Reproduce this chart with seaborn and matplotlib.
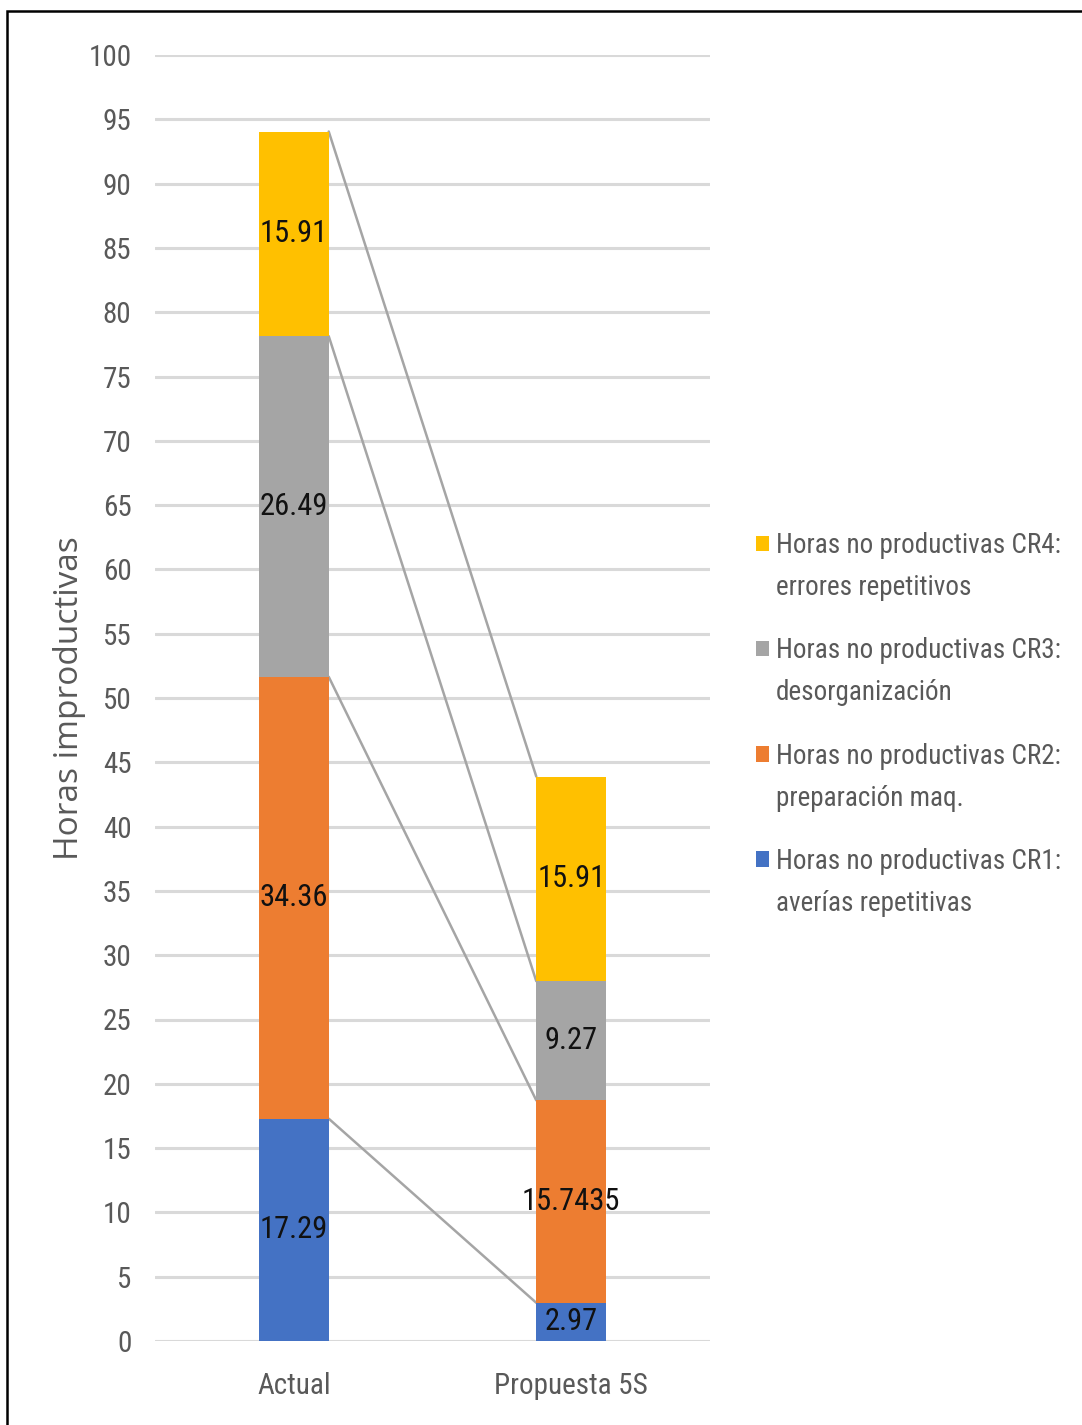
import matplotlib
matplotlib.use("Agg")
import matplotlib.pyplot as plt
from matplotlib import font_manager as fm
from matplotlib.patches import Patch, Rectangle
import seaborn as sns
import pandas as pd

# Data
categories = ["Actual", "Propuesta 5S"]
cr1 = [17.29, 2.97]
cr2 = [34.36, 15.7435]
cr3 = [26.49, 9.27]
cr4 = [15.91, 15.91]
cr1_labels = ["17.29", "2.97"]
cr2_labels = ["34.36", "15.7435"]
cr3_labels = ["26.49", "9.27"]
cr4_labels = ["15.91", "15.91"]
series_titles = [
    "Horas no productivas CR1:",
    "Horas no productivas CR2:",
    "Horas no productivas CR3:",
    "Horas no productivas CR4:",
]
series_details = [
    "averías repetitivas",
    "preparación maq.",
    "desorganización",
    "errores repetitivos",
]
colors = ["#4472C4", "#ED7D31", "#A5A5A5", "#FFC000"]

sns.set_theme(style="white")

# pick a narrow sans face for the chart text
entries = fm.fontManager.ttflist
names = {f.name for f in entries}
narrow_family = None
narrow_stretch = "normal"
for cand in ["Liberation Sans Narrow", "Roboto Condensed", "Open Sans Condensed",
             "Noto Sans Condensed", "DejaVu Sans Condensed"]:
    if cand in names:
        narrow_family = cand
        break
if narrow_family is None:
    for f in entries:
        if f.name in ("Liberation Sans", "DejaVu Sans", "Noto Sans", "Roboto", "Open Sans") \
                and str(f.stretch) in ("condensed", "semi-condensed", "extra-condensed") \
                and f.style == "normal" and f.weight in (400, "normal", "regular"):
            narrow_family = f.name
            narrow_stretch = f.stretch
            break
if narrow_family is None:
    narrow_family = "Liberation Sans"
    scale = 0.88
else:
    scale = 1.0

plt.rcParams["font.family"] = [narrow_family, "DejaVu Sans"]
plt.rcParams["font.stretch"] = narrow_stretch

fig = plt.figure(figsize=(10.82, 14.25), dpi=100)
ax = fig.add_axes([155 / 1082, 84 / 1425, 555 / 1082, 1286 / 1425])

layers = [cr1, cr2, cr3, cr4]
labels = [cr1_labels, cr2_labels, cr3_labels, cr4_labels]

# cumulative tops for each layer
cum = []
running = [0.0] * len(categories)
for layer in layers:
    running = [r + v for r, v in zip(running, layer)]
    cum.append(list(running))

# draw from the tallest stack down so each layer sits on the one below
bar_width = 0.252
for i in reversed(range(len(layers))):
    df = pd.DataFrame({"cat": categories, "top": cum[i]})
    sns.barplot(data=df, x="cat", y="top", color=colors[i], width=bar_width,
                saturation=1, ax=ax, zorder=2, linewidth=0)

# series lines connecting the stack boundaries
for i in range(len(layers)):
    ax.plot([0 + bar_width / 2, 1 - bar_width / 2], [cum[i][0], cum[i][1]],
            color="#A5A5A5", lw=1.8, zorder=1.5)

# data labels centered in each segment
for i in range(len(layers)):
    for j in range(len(categories)):
        bottom = cum[i][j] - layers[i][j]
        ax.text(j, bottom + layers[i][j] / 2, labels[i][j], ha="center", va="center",
                fontsize=22 * scale, color="#111111", zorder=4)

ax.set_xlim(-0.5, 1.5)
ax.set_ylim(0, 100)
ax.set_yticks(range(0, 101, 5))
ax.yaxis.grid(True, color="#D9D9D9", lw=2.2, zorder=0)
ax.set_axisbelow(True)
for s in ax.spines.values():
    s.set_visible(False)
ax.tick_params(axis="both", length=0, labelsize=21 * scale, labelcolor="#595959")
ax.tick_params(axis="y", pad=17)
ax.tick_params(axis="x", pad=22)
ax.set_xlabel("")
ax.set_ylabel("Horas improductivas", fontsize=24, color="#595959",
              family=["Open Sans", "DejaVu Sans"], stretch="normal")
ax.yaxis.set_label_coords(-0.125, 0.5)

# legend: series name with swatch, description on a second row below it
order = list(reversed(range(4)))
leg_kw = dict(loc="upper left", frameon=False, fontsize=19.5 * scale,
              handlelength=0.5, handleheight=0.5, handletextpad=0.25,
              labelspacing=2.89, borderpad=0, borderaxespad=0)
swatches = [Patch(facecolor=colors[i], edgecolor="none") for i in order]
leg1 = fig.legend(swatches, [series_titles[i] for i in order],
                  bbox_to_anchor=(0.6985, 1 - 532 / 1425), **leg_kw)
blanks = [Patch(facecolor="none", edgecolor="none") for i in order]
leg2 = fig.legend(blanks, [series_details[i] for i in order],
                  bbox_to_anchor=(0.6985, 1 - 574 / 1425), **leg_kw)
for leg in (leg1, leg2):
    for t in leg.get_texts():
        t.set_color("#595959")

# outer frame
fig.patches.append(Rectangle((7 / 1082, -0.02), 1.05, 1 - 11 / 1425 + 0.02,
                             transform=fig.transFigure, fill=False,
                             edgecolor="black", lw=1.8))

fig.savefig("out.png", dpi=100)
